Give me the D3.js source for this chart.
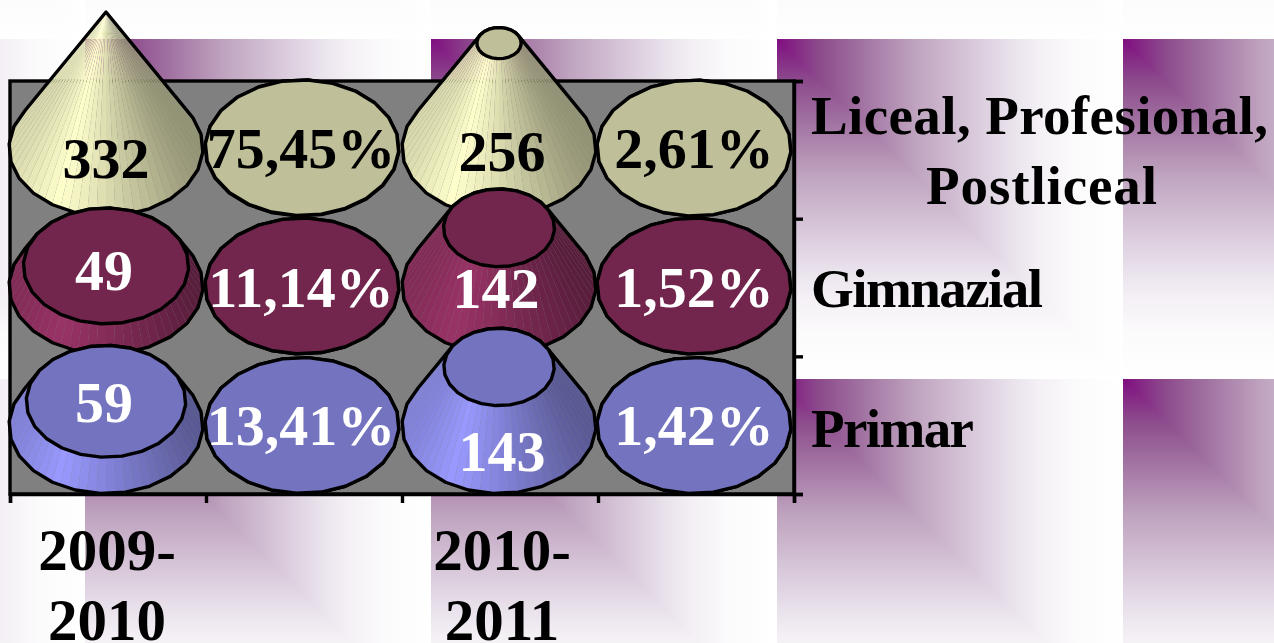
<!DOCTYPE html>
<html><head><meta charset="utf-8">
<script src="https://cdnjs.cloudflare.com/ajax/libs/d3/7.8.5/d3.min.js"></script>
<style>html,body{margin:0;padding:0;background:#fff;overflow:hidden}svg{display:block}
text{font-family:"Liberation Serif",serif;font-weight:bold}</style></head><body>
<script>
const categories = ["2009-2010", "", "2010-2011", ""];
const seriesNames = ["Liceal, Profesional, Postliceal", "Gimnazial", "Primar"];
const liceal = [332, 0.7545, 256, 0.0261];
const gimnazial = [49, 0.1114, 142, 0.0152];
const primar = [59, 0.1341, 143, 0.0142];
const liLabels = ["332", "75,45%", "256", "2,61%"];
const giLabels = ["49", "11,14%", "142", "1,52%"];
const prLabels = ["59", "13,41%", "143", "1,42%"];
const rowValues = [liceal, gimnazial, primar];
const rowLabels = [liLabels, giLabels, prLabels];
const baseColors = ["#FFFFCC", "#993366", "#9999FF"];
const labelColors = ["#000", "#fff", "#fff"];
const labelShift = [[30, 20, 23, 20], [4, 21, 22, 21], [-4, 19, 45, 19]];
const labelNudgeX = [[0, -1, 4, 0], [-2, -1, -2, 0], [-2, -1, 4, 0]];

const W = 1274, H = 643;
const svg = d3.select("body").append("svg").attr("width", W).attr("height", H);
const defs = svg.append("defs");

// tiled corner gradient background
const tw = 346, th = 340, ox = 85, oy = 39;
const ramp = [[0, "#800d80"], [.12, "#8c4a8c"], [.25, "#a274a2"], [.4, "#bfa3bf"], [.55, "#d6c5d8"], [.68, "#e9e2ec"], [.76, "#f4f0f5"], [.87, "#fcfbfc"], [1, "#ffffff"]];
function grad(id, x2, y2) {
  const g = defs.append("linearGradient").attr("id", id).attr("x1", 0).attr("y1", 0).attr("x2", x2).attr("y2", y2);
  ramp.forEach(s => g.append("stop").attr("offset", s[0]).attr("stop-color", s[1]));
}
grad("gh", 1, 0); grad("gv", 0, 1);
const pat = defs.append("pattern").attr("id", "tile").attr("patternUnits", "userSpaceOnUse")
  .attr("x", ox).attr("y", oy).attr("width", tw).attr("height", th);
pat.append("rect").attr("width", tw).attr("height", th).attr("fill", "url(#gh)");
pat.append("path").attr("d", `M0,0L${tw},${th}L0,${th}Z`).attr("fill", "url(#gv)");
svg.append("rect").attr("width", W).attr("height", H).attr("fill", "url(#tile)");

// scales
const xEdge = d3.scaleLinear().domain([0, 4]).range([10, 794]);
const yEdge = d3.scaleLinear().domain([0, 3]).range([81, 494]);
const cellX = i => xEdge(i + .5) - (i === 2 ? 1 : 2);
const baseY = [148, 286, 425.5];
const hScale = d3.scaleLinear().domain([0, 332]).range([0, 136]);
const rScale = d3.scaleLinear().domain([0, 332]).range([97, 0]);
const rx0 = 97, ry0 = 68;

// plot wall and axes
svg.append("rect").attr("x", xEdge(0)).attr("y", yEdge(0)).attr("width", xEdge(4) - xEdge(0)).attr("height", yEdge(3) - yEdge(0)).attr("fill", "#808080");
svg.append("rect").attr("x", xEdge(0)).attr("y", yEdge(0)).attr("width", xEdge(4) - xEdge(0)).attr("height", yEdge(3) - yEdge(0)).attr("fill", "none").attr("stroke", "#000").attr("stroke-width", 3.4);
const axB = d3.axisBottom(xEdge).tickValues([0, 1, 2, 3, 4]).tickFormat("").tickSize(9);
const axR = d3.axisRight(yEdge).tickValues([0, 1, 2, 3]).tickFormat("").tickSize(9);
[svg.append("g").attr("transform", `translate(0,${yEdge(3)})`).call(axB),
 svg.append("g").attr("transform", `translate(${xEdge(4)},0)`).call(axR)].forEach(g => {
  g.selectAll("path").attr("stroke", "#000").attr("stroke-width", 3.4);
  g.selectAll("line").attr("stroke", "#000").attr("stroke-width", 3.4);
});

// cones
const line = d3.line().curve(d3.curveLinearClosed);
const N = 24, F = 64, SW = 3.4;
function ring(cx, cy, r, n) {
  const k = r / rx0;
  return d3.range(n).map(i => {
    const a = i / n * 2 * Math.PI + .06;
    return [cx + rx0 * k * Math.cos(a), cy + ry0 * k * Math.sin(a)];
  });
}
function shade(c, a) {
  const u = Math.cos(a);
  const f = u < -.5 ? 1 - (-.5 - u) * .3 : 1 - (u + .5) / 1.5 * .42;
  const col = d3.rgb(c);
  return d3.rgb(col.r * f, col.g * f, col.b * f).formatRgb();
}
function flat(c) { const k = d3.rgb(c); return d3.rgb(k.r * .75, k.g * .75, k.b * .75).formatRgb(); }

rowValues.forEach((vals, row) => {
  const g = svg.append("g").attr("class", "row");
  const c = baseColors[row];
  vals.forEach((v, i) => {
    const cx = cellX(i), by = baseY[row];
    const ty = by - hScale(v), tr = rScale(v);
    const cell = g.append("g");
    const fac = d3.range(F).map(j => ({ a0: j / F * 2 * Math.PI, a1: (j + 1) / F * 2 * Math.PI }))
      .filter(d => Math.sin((d.a0 + d.a1) / 2) > -0.35)
      .sort((p, q) => Math.sin((p.a0 + p.a1) / 2) - Math.sin((q.a0 + q.a1) / 2));
    const k = tr / rx0;
    cell.selectAll("path.f").data(fac).join("path").attr("class", "f")
      .attr("fill", d => shade(c, (d.a0 + d.a1) / 2))
      .attr("d", d => line([
        [cx + rx0 * Math.cos(d.a0), by + ry0 * Math.sin(d.a0)],
        [cx + rx0 * Math.cos(d.a1), by + ry0 * Math.sin(d.a1)],
        [cx + rx0 * k * Math.cos(d.a1), ty + ry0 * k * Math.sin(d.a1)],
        [cx + rx0 * k * Math.cos(d.a0), ty + ry0 * k * Math.sin(d.a0)]]));
    const hull = d3.polygonHull(ring(cx, by, rx0, N).concat(ring(cx, ty, tr, N)));
    cell.append("path").attr("d", line(hull)).attr("fill", "none").attr("stroke", "#000").attr("stroke-width", SW).attr("stroke-linejoin", "round");
    if (tr > 1) cell.append("path").attr("d", line(ring(cx, ty, tr, N))).attr("fill", flat(c)).attr("stroke", "#000").attr("stroke-width", SW).attr("stroke-linejoin", "round");
  });
});

// value labels
rowLabels.forEach((labs, row) => {
  svg.append("g").selectAll("text").data(labs).join("text")
    .attr("x", (d, i) => xEdge(i + .5) - 2 + labelNudgeX[row][i])
    .attr("y", (d, i) => baseY[row] + labelShift[row][i])
    .attr("text-anchor", "middle").attr("font-size", 58).attr("fill", labelColors[row]).text(d => d);
});

// category labels
categories.forEach((c, i) => {
  if (!c) return;
  const parts = c.split("-");
  const dx = i === 0 ? 1 : 4;
  const t = svg.append("text").attr("text-anchor", "middle").attr("font-size", 59).attr("fill", "#000");
  t.append("tspan").attr("x", cellX(i) + dx - (i === 2 ? 1 : 0)).attr("y", 570).text(parts[0] + "-");
  t.append("tspan").attr("x", cellX(i) + dx - (i === 2 ? 1 : 0)).attr("y", 640).text(parts[1]);
});

// series labels
const legendSize = 55;
const leg = svg.append("g").attr("font-size", legendSize).attr("fill", "#000");
leg.append("text").attr("x", 811).attr("y", 134).attr("textLength", 457).attr("lengthAdjust", "spacing").text("Liceal, Profesional,");
leg.append("text").attr("x", 926).attr("y", 204).attr("textLength", 231).attr("lengthAdjust", "spacing").text("Postliceal");
leg.append("text").attr("x", 811).attr("y", 307).attr("textLength", 232).attr("lengthAdjust", "spacing").text(seriesNames[1]);
leg.append("text").attr("x", 811).attr("y", 447).attr("textLength", 163).attr("lengthAdjust", "spacing").text(seriesNames[2]);
</script></body></html>
